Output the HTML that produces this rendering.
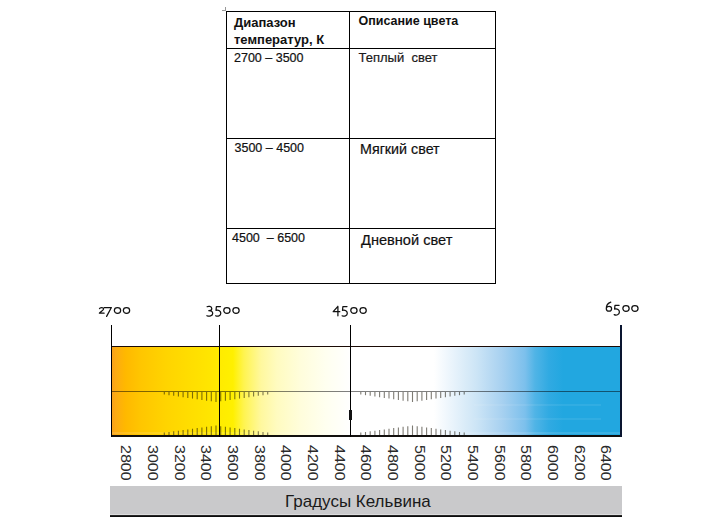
<!DOCTYPE html>
<html><head><meta charset="utf-8">
<style>
html,body{margin:0;padding:0;background:#fff;}
body{width:724px;height:531px;position:relative;overflow:hidden;font-family:"Liberation Sans",sans-serif;}
.a{position:absolute;}
.hl{position:absolute;height:1px;background:#000;}
.vl{position:absolute;width:1px;background:#000;}
.t{position:absolute;line-height:1;white-space:pre;color:#111;-webkit-text-stroke:0.2px currentColor;}
.b{font-weight:bold;-webkit-text-stroke:0;}
.rot{position:absolute;writing-mode:vertical-rl;line-height:1;font-size:14.1px;color:#2a2a2a;white-space:pre;transform:scaleY(1.14);transform-origin:0 0;}
svg{position:absolute;left:0;top:0;}
</style></head><body>
<div class="hl" style="left:226px;top:11px;width:270px"></div>
<div class="hl" style="left:226px;top:48px;width:270px"></div>
<div class="hl" style="left:226px;top:138px;width:270px"></div>
<div class="hl" style="left:226px;top:228px;width:270px"></div>
<div class="hl" style="left:226px;top:283px;width:270px"></div>
<div class="vl" style="left:226px;top:11px;height:273px"></div>
<div class="vl" style="left:349px;top:11px;height:273px"></div>
<div class="vl" style="left:495px;top:11px;height:273px"></div>
<div class="a" style="left:222px;top:10px;width:4px;height:1px;background:#999"></div>
<div class="a" style="left:225px;top:7px;width:1px;height:4px;background:#999"></div>

<div class="t b" style="left:234px;top:16px;font-size:13px">Диапазон</div>
<div class="t b" style="left:234px;top:32.5px;font-size:13px">температур, К</div>
<div class="t b" style="left:358.5px;top:15px;font-size:12.5px">Описание цвета</div>
<div class="t" style="left:234px;top:52px;font-size:12.5px;color:#111">2700 – 3500</div>
<div class="t" style="left:358.5px;top:51px;font-size:13px;color:#1a1a1a">Теплый  свет</div>
<div class="t" style="left:234.5px;top:142px;font-size:12.5px;color:#111">3500 – 4500</div>
<div class="t" style="left:360px;top:142px;font-size:14.3px;color:#111">Мягкий свет</div>
<div class="t" style="left:232px;top:232px;font-size:12.5px;color:#111">4500  – 6500</div>
<div class="t" style="left:361px;top:233px;font-size:14.6px;color:#111">Дневной свет</div>

<div class="a" style="left:111px;top:346px;width:510px;height:90px;background:linear-gradient(to right,#f79e1c 0px,#fcab12 5px,#ffb800 14px,#ffc600 30px,#ffd400 55px,#ffde00 80px,#ffe600 100px,#ffeb00 108px,#fff000 122px,#fff450 133px,#fff89e 150px,#fffbc0 166px,#fffddc 190px,#fffff0 215px,#ffffff 240px,#ffffff 323px,#e6f2fb 344px,#cde5f6 365px,#a6d0f0 392px,#7cc0ec 414px,#50b4e6 424px,#30aae2 438px,#22a7e0 452px,#22a7e0 510px)"></div>
<div class="hl" style="left:111px;top:346px;width:511px;background:#1a0a05"></div>
<div class="a" style="left:111px;top:435px;width:511px;height:2px;background:#12100e"></div>
<div class="a" style="left:111px;top:391px;width:510px;height:1px;background:rgba(0,0,0,0.5)"></div>
<div class="a" style="left:112px;top:432px;width:508px;height:2px;background:rgba(255,255,255,0.12)"></div>
<div class="a" style="left:474px;top:404px;width:127px;height:2px;background:rgba(255,255,255,0.07)"></div>
<div class="a" style="left:474px;top:418px;width:127px;height:2px;background:rgba(255,255,255,0.07)"></div>
<svg width="724" height="531" viewBox="0 0 724 531">
<g stroke="rgba(20,15,0,0.55)" stroke-width="1.1" fill="none">
<line x1="164.30" y1="392" x2="164.30" y2="394.50"/>
<line x1="164.30" y1="435" x2="164.30" y2="432.62"/>
<line x1="169.00" y1="392" x2="169.00" y2="395.18"/>
<line x1="169.00" y1="435" x2="169.00" y2="431.98"/>
<line x1="173.70" y1="392" x2="173.70" y2="395.86"/>
<line x1="173.70" y1="435" x2="173.70" y2="431.33"/>
<line x1="178.40" y1="392" x2="178.40" y2="396.55"/>
<line x1="178.40" y1="435" x2="178.40" y2="430.68"/>
<line x1="183.10" y1="392" x2="183.10" y2="397.23"/>
<line x1="183.10" y1="435" x2="183.10" y2="430.03"/>
<line x1="187.80" y1="392" x2="187.80" y2="397.91"/>
<line x1="187.80" y1="435" x2="187.80" y2="429.39"/>
<line x1="192.50" y1="392" x2="192.50" y2="398.59"/>
<line x1="192.50" y1="435" x2="192.50" y2="428.74"/>
<line x1="197.20" y1="392" x2="197.20" y2="399.27"/>
<line x1="197.20" y1="435" x2="197.20" y2="428.09"/>
<line x1="201.90" y1="392" x2="201.90" y2="399.95"/>
<line x1="201.90" y1="435" x2="201.90" y2="427.44"/>
<line x1="206.60" y1="392" x2="206.60" y2="400.64"/>
<line x1="206.60" y1="435" x2="206.60" y2="426.80"/>
<line x1="211.30" y1="392" x2="211.30" y2="401.32"/>
<line x1="211.30" y1="435" x2="211.30" y2="426.15"/>
<line x1="216.00" y1="392" x2="216.00" y2="402.00"/>
<line x1="216.00" y1="435" x2="216.00" y2="425.50"/>
<line x1="220.70" y1="392" x2="220.70" y2="401.32"/>
<line x1="220.70" y1="435" x2="220.70" y2="426.15"/>
<line x1="225.40" y1="392" x2="225.40" y2="400.64"/>
<line x1="225.40" y1="435" x2="225.40" y2="426.80"/>
<line x1="230.10" y1="392" x2="230.10" y2="399.95"/>
<line x1="230.10" y1="435" x2="230.10" y2="427.44"/>
<line x1="234.80" y1="392" x2="234.80" y2="399.27"/>
<line x1="234.80" y1="435" x2="234.80" y2="428.09"/>
<line x1="239.50" y1="392" x2="239.50" y2="398.59"/>
<line x1="239.50" y1="435" x2="239.50" y2="428.74"/>
<line x1="244.20" y1="392" x2="244.20" y2="397.91"/>
<line x1="244.20" y1="435" x2="244.20" y2="429.39"/>
<line x1="248.90" y1="392" x2="248.90" y2="397.23"/>
<line x1="248.90" y1="435" x2="248.90" y2="430.03"/>
<line x1="253.60" y1="392" x2="253.60" y2="396.55"/>
<line x1="253.60" y1="435" x2="253.60" y2="430.68"/>
<line x1="258.30" y1="392" x2="258.30" y2="395.86"/>
<line x1="258.30" y1="435" x2="258.30" y2="431.33"/>
<line x1="263.00" y1="392" x2="263.00" y2="395.18"/>
<line x1="263.00" y1="435" x2="263.00" y2="431.98"/>
<line x1="267.70" y1="392" x2="267.70" y2="394.50"/>
<line x1="267.70" y1="435" x2="267.70" y2="432.62"/>
<line x1="360.80" y1="392" x2="360.80" y2="394.50"/>
<line x1="360.80" y1="435" x2="360.80" y2="432.62"/>
<line x1="365.50" y1="392" x2="365.50" y2="395.18"/>
<line x1="365.50" y1="435" x2="365.50" y2="431.98"/>
<line x1="370.20" y1="392" x2="370.20" y2="395.86"/>
<line x1="370.20" y1="435" x2="370.20" y2="431.33"/>
<line x1="374.90" y1="392" x2="374.90" y2="396.55"/>
<line x1="374.90" y1="435" x2="374.90" y2="430.68"/>
<line x1="379.60" y1="392" x2="379.60" y2="397.23"/>
<line x1="379.60" y1="435" x2="379.60" y2="430.03"/>
<line x1="384.30" y1="392" x2="384.30" y2="397.91"/>
<line x1="384.30" y1="435" x2="384.30" y2="429.39"/>
<line x1="389.00" y1="392" x2="389.00" y2="398.59"/>
<line x1="389.00" y1="435" x2="389.00" y2="428.74"/>
<line x1="393.70" y1="392" x2="393.70" y2="399.27"/>
<line x1="393.70" y1="435" x2="393.70" y2="428.09"/>
<line x1="398.40" y1="392" x2="398.40" y2="399.95"/>
<line x1="398.40" y1="435" x2="398.40" y2="427.44"/>
<line x1="403.10" y1="392" x2="403.10" y2="400.64"/>
<line x1="403.10" y1="435" x2="403.10" y2="426.80"/>
<line x1="407.80" y1="392" x2="407.80" y2="401.32"/>
<line x1="407.80" y1="435" x2="407.80" y2="426.15"/>
<line x1="412.50" y1="392" x2="412.50" y2="402.00"/>
<line x1="412.50" y1="435" x2="412.50" y2="425.50"/>
<line x1="417.20" y1="392" x2="417.20" y2="401.32"/>
<line x1="417.20" y1="435" x2="417.20" y2="426.15"/>
<line x1="421.90" y1="392" x2="421.90" y2="400.64"/>
<line x1="421.90" y1="435" x2="421.90" y2="426.80"/>
<line x1="426.60" y1="392" x2="426.60" y2="399.95"/>
<line x1="426.60" y1="435" x2="426.60" y2="427.44"/>
<line x1="431.30" y1="392" x2="431.30" y2="399.27"/>
<line x1="431.30" y1="435" x2="431.30" y2="428.09"/>
<line x1="436.00" y1="392" x2="436.00" y2="398.59"/>
<line x1="436.00" y1="435" x2="436.00" y2="428.74"/>
<line x1="440.70" y1="392" x2="440.70" y2="397.91"/>
<line x1="440.70" y1="435" x2="440.70" y2="429.39"/>
<line x1="445.40" y1="392" x2="445.40" y2="397.23"/>
<line x1="445.40" y1="435" x2="445.40" y2="430.03"/>
<line x1="450.10" y1="392" x2="450.10" y2="396.55"/>
<line x1="450.10" y1="435" x2="450.10" y2="430.68"/>
<line x1="454.80" y1="392" x2="454.80" y2="395.86"/>
<line x1="454.80" y1="435" x2="454.80" y2="431.33"/>
<line x1="459.50" y1="392" x2="459.50" y2="395.18"/>
<line x1="459.50" y1="435" x2="459.50" y2="431.98"/>
<line x1="464.20" y1="392" x2="464.20" y2="394.50"/>
<line x1="464.20" y1="435" x2="464.20" y2="432.62"/>
</g>
<g stroke="#111" stroke-width="1.25" fill="none" stroke-linecap="round" stroke-linejoin="round">
<g transform="translate(98.90,307.00)"><path d="M0.6,1.6 C1.0,0.2 4.8,0 4.7,2.0 C4.6,3.4 1.6,4.8 0.5,6.2 L5.2,6.2"/></g>
<g transform="translate(104.00,307.00)"><path d="M0.2,0.5 L7.4,0.5 L2.6,9.4"/></g>
<g transform="translate(113.80,307.00)"><ellipse cx="3.7" cy="3.4" rx="3.15" ry="2.85"/></g>
<g transform="translate(122.80,307.00)"><ellipse cx="3.7" cy="3.4" rx="3.15" ry="2.85"/></g>
<g transform="translate(206.60,307.00)"><path d="M0.5,-0.3 C1.5,-1 5.2,-1 5.2,1.4 C5.2,3 3.6,3.7 2.2,3.7 C4.6,3.7 6.1,4.9 6.1,6.6 C6.1,9.2 2.4,9.6 0.3,8.7"/></g>
<g transform="translate(215.30,307.00)"><path d="M5.2,-0.5 L1.1,-0.5 L0.7,3.3 C3.4,2.6 5.5,4 5.5,6.3 C5.5,9 2.4,9.8 0.3,8.8"/></g>
<g transform="translate(223.20,307.00)"><ellipse cx="3.7" cy="3.4" rx="3.15" ry="2.85"/></g>
<g transform="translate(232.30,307.00)"><ellipse cx="3.7" cy="3.4" rx="3.15" ry="2.85"/></g>
<g transform="translate(332.90,307.00)"><path d="M5.0,-0.6 L0.3,4.7 L6.9,4.7 M5.0,-0.6 L5.0,8.8"/></g>
<g transform="translate(341.80,307.00)"><path d="M5.2,-0.5 L1.1,-0.5 L0.7,3.3 C3.4,2.6 5.5,4 5.5,6.3 C5.5,9 2.4,9.8 0.3,8.8"/></g>
<g transform="translate(350.20,307.00)"><ellipse cx="3.7" cy="3.4" rx="3.15" ry="2.85"/></g>
<g transform="translate(359.40,307.00)"><ellipse cx="3.7" cy="3.4" rx="3.15" ry="2.85"/></g>
<g transform="translate(606.00,305.00)"><path d="M4.8,-2.9 C1.8,-1.8 0.3,0.8 0.3,3.4 C0.3,5.3 1.3,6.2 3.0,6.2 C4.6,6.2 5.6,5.1 5.6,3.7 C5.6,2.2 4.6,1.3 3.1,1.3 C1.8,1.3 0.8,2.1 0.4,3.0"/></g>
<g transform="translate(613.90,305.80)"><path d="M5.2,-0.5 L1.1,-0.5 L0.7,3.3 C3.4,2.6 5.5,4 5.5,6.3 C5.5,9 2.4,9.8 0.3,8.8"/></g>
<g transform="translate(622.30,305.00)"><ellipse cx="3.7" cy="3.4" rx="3.15" ry="2.85"/></g>
<g transform="translate(631.20,305.00)"><ellipse cx="3.7" cy="3.4" rx="3.15" ry="2.85"/></g>
</g>
</svg>
<div class="vl" style="left:111px;top:325px;height:112px"></div>
<div class="vl" style="left:219px;top:325px;height:112px"></div>
<div class="vl" style="left:350px;top:325px;height:112px"></div>
<div class="a" style="left:620px;top:325px;width:2px;height:112px;background:#0a1530"></div>
<div class="a" style="left:349px;top:410px;width:2.5px;height:10px;background:#111"></div>

<div class="rot" style="left:119.15px;top:445px">2800</div>
<div class="rot" style="left:145.83px;top:445px">3000</div>
<div class="rot" style="left:172.51px;top:445px">3200</div>
<div class="rot" style="left:199.19px;top:445px">3400</div>
<div class="rot" style="left:225.87px;top:445px">3600</div>
<div class="rot" style="left:252.55px;top:445px">3800</div>
<div class="rot" style="left:279.23px;top:445px">4000</div>
<div class="rot" style="left:305.91px;top:445px">4200</div>
<div class="rot" style="left:332.59px;top:445px">4400</div>
<div class="rot" style="left:359.27px;top:445px">4600</div>
<div class="rot" style="left:385.95px;top:445px">4800</div>
<div class="rot" style="left:412.63px;top:445px">5000</div>
<div class="rot" style="left:439.31px;top:445px">5200</div>
<div class="rot" style="left:465.99px;top:445px">5400</div>
<div class="rot" style="left:492.67px;top:445px">5600</div>
<div class="rot" style="left:519.35px;top:445px">5800</div>
<div class="rot" style="left:546.03px;top:445px">6000</div>
<div class="rot" style="left:572.71px;top:445px">6200</div>
<div class="rot" style="left:599.39px;top:445px">6400</div>

<div class="a" style="left:110px;top:486px;width:512px;height:28px;background:#c9c9cb"></div>
<div class="a" style="left:110px;top:514px;width:512px;height:1px;background:#dcdcdd"></div>
<div class="a" style="left:110px;top:515px;width:512px;height:2px;background:linear-gradient(#333,#000)"></div>
<div class="t" style="left:285px;top:493px;font-size:17px;color:#1a1a1a;-webkit-text-stroke:0">Градусы Кельвина</div>
</body></html>
